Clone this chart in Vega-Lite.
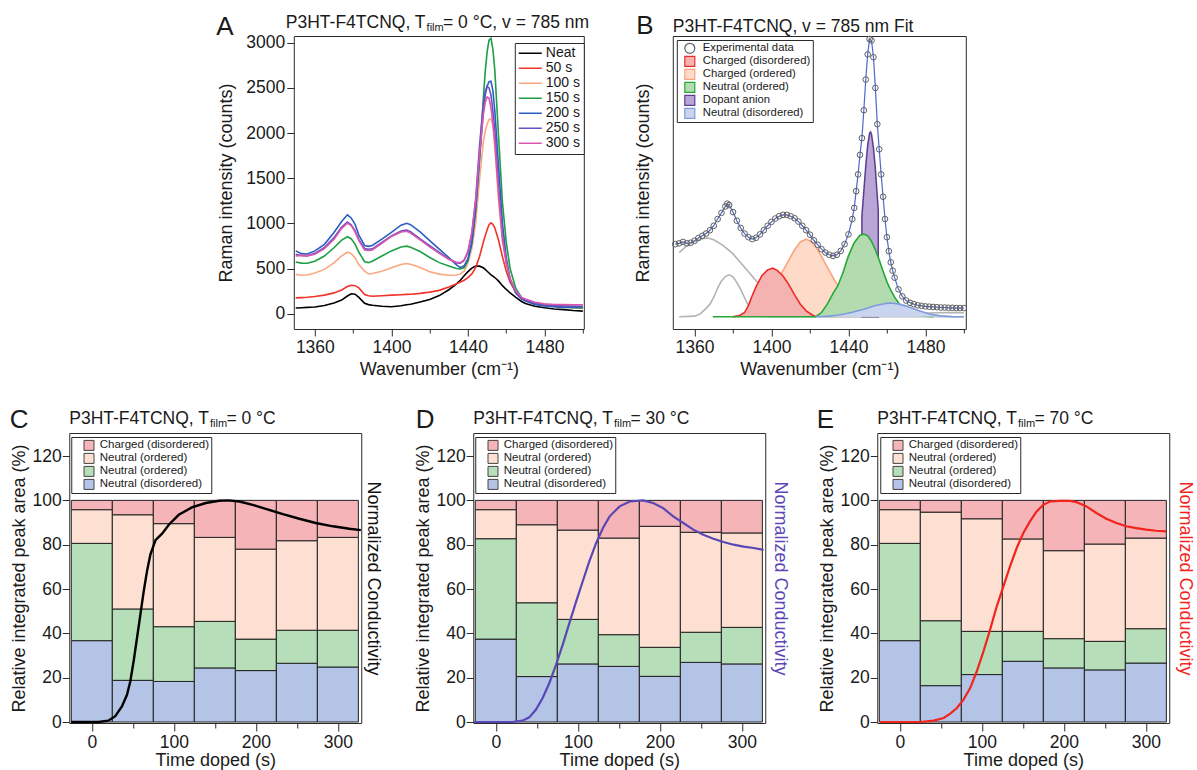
{
  "$schema": "https://vega.github.io/schema/vega-lite/v6.json",
  "padding": {"left": 8, "top": 11, "right": 0, "bottom": 0},
  "background": "white",
  "config": {
    "font": "Liberation Sans",
    "view": {"stroke": "#2b2b2b", "strokeWidth": 1},
    "axis": {"domain": false, "grid": false, "tickColor": "#2b2b2b", "tickSize": 7, "labelFontSize": 17.5, "titleFontSize": 18, "titleFontWeight": "normal", "labelColor": "#1a1a1a", "titleColor": "#1a1a1a", "labelPadding": 2, "labelFlush": false, "labelOverlap": false},
    "title": {"fontSize": 17.5, "fontWeight": "normal", "color": "#1a1a1a", "anchor": "start", "frame": "group", "subtitleFontSize": 11, "subtitleColor": "#1a1a1a", "subtitlePadding": -9, "offset": -23},
    "legend": {"labelColor": "#1a1a1a", "strokeColor": "#2b2b2b", "fillColor": "white"}
  },
  "datasets": {
    "spectra": [
      {"w":1350,"Neat":63,"50 s":175,"100 s":435,"150 s":572,"200 s":695,"250 s":658,"300 s":640},
      {"w":1353,"Neat":66,"50 s":178,"100 s":425,"150 s":560,"200 s":665,"250 s":645,"300 s":645},
      {"w":1356,"Neat":69,"50 s":182,"100 s":428,"150 s":558,"200 s":660,"250 s":640,"300 s":640},
      {"w":1360,"Neat":74,"50 s":190,"100 s":450,"150 s":580,"200 s":695,"250 s":668,"300 s":658},
      {"w":1365,"Neat":90,"50 s":205,"100 s":490,"150 s":638,"200 s":768,"250 s":732,"300 s":720},
      {"w":1370,"Neat":119,"50 s":230,"100 s":562,"150 s":730,"200 s":898,"250 s":842,"300 s":825},
      {"w":1374,"Neat":150,"50 s":262,"100 s":640,"150 s":815,"200 s":1020,"250 s":960,"300 s":945},
      {"w":1377,"Neat":195,"50 s":300,"100 s":680,"150 s":852,"200 s":1095,"250 s":1015,"300 s":1002},
      {"w":1379,"Neat":220,"50 s":315,"100 s":665,"150 s":830,"200 s":1060,"250 s":985,"300 s":975},
      {"w":1381,"Neat":215,"50 s":310,"100 s":620,"150 s":770,"200 s":990,"250 s":920,"300 s":905},
      {"w":1383,"Neat":180,"50 s":285,"100 s":540,"150 s":680,"200 s":870,"250 s":820,"300 s":808},
      {"w":1386,"Neat":115,"50 s":212,"100 s":470,"150 s":575,"200 s":755,"250 s":722,"300 s":706},
      {"w":1388,"Neat":100,"50 s":198,"100 s":440,"150 s":565,"200 s":745,"250 s":712,"300 s":700},
      {"w":1390,"Neat":93,"50 s":192,"100 s":445,"150 s":580,"200 s":755,"250 s":718,"300 s":706},
      {"w":1395,"Neat":82,"50 s":198,"100 s":470,"150 s":638,"200 s":825,"250 s":788,"300 s":780},
      {"w":1400,"Neat":76,"50 s":205,"100 s":508,"150 s":695,"200 s":900,"250 s":860,"300 s":855},
      {"w":1405,"Neat":88,"50 s":210,"100 s":545,"150 s":738,"200 s":980,"250 s":915,"300 s":905},
      {"w":1408,"Neat":98,"50 s":213,"100 s":556,"150 s":748,"200 s":1000,"250 s":925,"300 s":912},
      {"w":1410,"Neat":105,"50 s":215,"100 s":548,"150 s":735,"200 s":985,"250 s":908,"300 s":892},
      {"w":1415,"Neat":128,"50 s":225,"100 s":512,"150 s":688,"200 s":905,"250 s":828,"300 s":818},
      {"w":1420,"Neat":156,"50 s":238,"100 s":465,"150 s":622,"200 s":808,"250 s":752,"300 s":740},
      {"w":1425,"Neat":200,"50 s":258,"100 s":438,"150 s":565,"200 s":715,"250 s":678,"300 s":668},
      {"w":1430,"Neat":265,"50 s":295,"100 s":425,"150 s":528,"200 s":620,"250 s":605,"300 s":602},
      {"w":1434,"Neat":330,"50 s":330,"100 s":428,"150 s":500,"200 s":540,"250 s":562,"300 s":568},
      {"w":1436,"Neat":370,"50 s":350,"100 s":440,"150 s":495,"200 s":510,"250 s":560,"300 s":566},
      {"w":1438,"Neat":420,"50 s":370,"100 s":470,"150 s":510,"200 s":530,"250 s":590,"300 s":595},
      {"w":1440,"Neat":465,"50 s":400,"100 s":560,"150 s":590,"200 s":610,"250 s":680,"300 s":695},
      {"w":1442,"Neat":505,"50 s":440,"100 s":720,"150 s":780,"200 s":780,"250 s":880,"300 s":900},
      {"w":1444,"Neat":528,"50 s":510,"100 s":1000,"150 s":1150,"200 s":1150,"250 s":1270,"300 s":1250},
      {"w":1446,"Neat":526,"50 s":630,"100 s":1480,"150 s":1700,"200 s":1700,"250 s":1850,"300 s":1760},
      {"w":1448,"Neat":508,"50 s":790,"100 s":1900,"150 s":2380,"200 s":2250,"250 s":2320,"300 s":2200},
      {"w":1449,"Neat":490,"50 s":860,"100 s":2020,"150 s":2680,"200 s":2420,"250 s":2460,"300 s":2340},
      {"w":1450,"Neat":470,"50 s":930,"100 s":2100,"150 s":2900,"200 s":2520,"250 s":2515,"300 s":2400},
      {"w":1451,"Neat":450,"50 s":985,"100 s":2150,"150 s":3030,"200 s":2570,"250 s":2500,"300 s":2385},
      {"w":1452,"Neat":430,"50 s":1005,"100 s":2160,"150 s":3050,"200 s":2575,"250 s":2420,"300 s":2280},
      {"w":1453,"Neat":415,"50 s":990,"100 s":2080,"150 s":2930,"200 s":2470,"250 s":2250,"300 s":2120},
      {"w":1454,"Neat":400,"50 s":950,"100 s":1850,"150 s":2700,"200 s":2250,"250 s":2030,"300 s":1900},
      {"w":1456,"Neat":360,"50 s":810,"100 s":1250,"150 s":1950,"200 s":1620,"250 s":1400,"300 s":1310},
      {"w":1458,"Neat":310,"50 s":630,"100 s":800,"150 s":1230,"200 s":1000,"250 s":870,"300 s":830},
      {"w":1460,"Neat":268,"50 s":470,"100 s":560,"150 s":790,"200 s":620,"250 s":570,"300 s":565},
      {"w":1462,"Neat":230,"50 s":350,"100 s":390,"150 s":500,"200 s":380,"250 s":380,"300 s":380},
      {"w":1465,"Neat":180,"50 s":240,"100 s":240,"150 s":275,"200 s":225,"250 s":232,"300 s":250},
      {"w":1468,"Neat":135,"50 s":175,"100 s":170,"150 s":180,"200 s":160,"250 s":170,"300 s":180},
      {"w":1470,"Neat":112,"50 s":150,"100 s":140,"150 s":148,"200 s":140,"250 s":152,"300 s":162},
      {"w":1475,"Neat":82,"50 s":115,"100 s":105,"150 s":108,"200 s":102,"250 s":118,"300 s":126},
      {"w":1480,"Neat":65,"50 s":95,"100 s":90,"150 s":90,"200 s":84,"250 s":100,"300 s":108},
      {"w":1485,"Neat":52,"50 s":82,"100 s":85,"150 s":80,"200 s":76,"250 s":92,"300 s":102},
      {"w":1490,"Neat":45,"50 s":74,"100 s":80,"150 s":72,"200 s":70,"250 s":88,"300 s":100},
      {"w":1495,"Neat":35,"50 s":68,"100 s":76,"150 s":66,"200 s":72,"250 s":85,"300 s":98},
      {"w":1500,"Neat":28,"50 s":63,"100 s":74,"150 s":63,"200 s":74,"250 s":82,"300 s":98}
    ],
    "comps": [
      {"c":"g1","w":1352,"v":23},{"c":"g1","w":1356,"v":25.5},{"c":"g1","w":1360,"v":27},{"c":"g1","w":1364,"v":28},{"c":"g1","w":1367,"v":28.2},{"c":"g1","w":1370,"v":27.6},{"c":"g1","w":1375,"v":25.5},{"c":"g1","w":1380,"v":22.5},{"c":"g1","w":1385,"v":18.5},{"c":"g1","w":1390,"v":14.5},{"c":"g1","w":1395,"v":10.5},{"c":"g1","w":1400,"v":7},{"c":"g1","w":1405,"v":4.5},{"c":"g1","w":1410,"v":2.6},{"c":"g1","w":1415,"v":1.3},{"c":"g1","w":1420,"v":0.6},{"c":"g1","w":1425,"v":0.2},{"c":"g1","w":1430,"v":0},
      {"c":"g2","w":1352,"v":0},{"c":"g2","w":1360,"v":0.2},{"c":"g2","w":1363,"v":1},{"c":"g2","w":1366,"v":3},{"c":"g2","w":1368,"v":4.5},{"c":"g2","w":1370,"v":7},{"c":"g2","w":1372,"v":10.3},{"c":"g2","w":1374,"v":12.8},{"c":"g2","w":1376,"v":14.4},{"c":"g2","w":1378,"v":15},{"c":"g2","w":1380,"v":14.3},{"c":"g2","w":1382,"v":12.2},{"c":"g2","w":1384,"v":9.8},{"c":"g2","w":1386,"v":6.8},{"c":"g2","w":1388,"v":4},{"c":"g2","w":1390,"v":2.1},{"c":"g2","w":1393,"v":0.7},{"c":"g2","w":1396,"v":0.2},{"c":"g2","w":1400,"v":0},{"c":"g2","w":1500,"v":0},
      {"c":"g3","w":1430,"v":0},{"c":"g3","w":1445,"v":0.1},{"c":"g3","w":1455,"v":0.3},{"c":"g3","w":1465,"v":0.7},{"c":"g3","w":1475,"v":1.1},{"c":"g3","w":1485,"v":1.4},{"c":"g3","w":1492,"v":1.5},{"c":"g3","w":1500,"v":1.4},
      {"c":"Charged (ordered)","w":1380,"v":0},{"c":"Charged (ordered)","w":1384,"v":0.5},{"c":"Charged (ordered)","w":1388,"v":1.4},{"c":"Charged (ordered)","w":1391,"v":2.6},{"c":"Charged (ordered)","w":1394,"v":4.3},{"c":"Charged (ordered)","w":1397,"v":6.6},{"c":"Charged (ordered)","w":1400,"v":9.5},{"c":"Charged (ordered)","w":1403,"v":12.8},{"c":"Charged (ordered)","w":1406,"v":16.5},{"c":"Charged (ordered)","w":1409,"v":20.3},{"c":"Charged (ordered)","w":1412,"v":24},{"c":"Charged (ordered)","w":1415,"v":26.8},{"c":"Charged (ordered)","w":1418,"v":27.8},{"c":"Charged (ordered)","w":1421,"v":26.8},{"c":"Charged (ordered)","w":1424,"v":24},{"c":"Charged (ordered)","w":1427,"v":20.3},{"c":"Charged (ordered)","w":1430,"v":16.5},{"c":"Charged (ordered)","w":1433,"v":12.8},{"c":"Charged (ordered)","w":1436,"v":9.5},{"c":"Charged (ordered)","w":1439,"v":6.6},{"c":"Charged (ordered)","w":1442,"v":4.3},{"c":"Charged (ordered)","w":1445,"v":2.6},{"c":"Charged (ordered)","w":1448,"v":1.4},{"c":"Charged (ordered)","w":1452,"v":0.5},{"c":"Charged (ordered)","w":1456,"v":0},
      {"c":"Charged (disordered)","w":1380,"v":0},{"c":"Charged (disordered)","w":1383,"v":0.3},{"c":"Charged (disordered)","w":1386,"v":1.5},{"c":"Charged (disordered)","w":1388,"v":4},{"c":"Charged (disordered)","w":1390,"v":7.6},{"c":"Charged (disordered)","w":1392,"v":10.8},{"c":"Charged (disordered)","w":1395,"v":14.7},{"c":"Charged (disordered)","w":1398,"v":16.8},{"c":"Charged (disordered)","w":1400.7,"v":17.4},{"c":"Charged (disordered)","w":1403,"v":16.6},{"c":"Charged (disordered)","w":1406,"v":14.6},{"c":"Charged (disordered)","w":1409,"v":11.5},{"c":"Charged (disordered)","w":1412,"v":7.8},{"c":"Charged (disordered)","w":1415,"v":4.5},{"c":"Charged (disordered)","w":1418,"v":2.1},{"c":"Charged (disordered)","w":1421,"v":0.7},{"c":"Charged (disordered)","w":1423,"v":0},
      {"c":"Dopant anion","w":1447,"v":36},{"c":"Dopant anion","w":1448,"v":45},{"c":"Dopant anion","w":1449,"v":54},{"c":"Dopant anion","w":1450,"v":61.5},{"c":"Dopant anion","w":1451,"v":65.8},{"c":"Dopant anion","w":1451.5,"v":66.2},{"c":"Dopant anion","w":1452,"v":65.3},{"c":"Dopant anion","w":1453,"v":60.5},{"c":"Dopant anion","w":1454,"v":53},{"c":"Dopant anion","w":1455,"v":43},{"c":"Dopant anion","w":1455.5,"v":38},
      {"c":"Neutral (ordered)","w":1369.5,"v":0},{"c":"Neutral (ordered)","w":1423,"v":0},{"c":"Neutral (ordered)","w":1426,"v":1.5},{"c":"Neutral (ordered)","w":1429,"v":4.5},{"c":"Neutral (ordered)","w":1432,"v":8.4},{"c":"Neutral (ordered)","w":1434.5,"v":11.1},{"c":"Neutral (ordered)","w":1437,"v":15.5},{"c":"Neutral (ordered)","w":1440,"v":21.8},{"c":"Neutral (ordered)","w":1443,"v":26.5},{"c":"Neutral (ordered)","w":1446,"v":29.2},{"c":"Neutral (ordered)","w":1448,"v":29.6},{"c":"Neutral (ordered)","w":1450,"v":29},{"c":"Neutral (ordered)","w":1452,"v":27},{"c":"Neutral (ordered)","w":1454,"v":24},{"c":"Neutral (ordered)","w":1456,"v":20.3},{"c":"Neutral (ordered)","w":1458,"v":16.3},{"c":"Neutral (ordered)","w":1460,"v":12.5},{"c":"Neutral (ordered)","w":1462,"v":9.5},{"c":"Neutral (ordered)","w":1464,"v":7},{"c":"Neutral (ordered)","w":1466,"v":5},{"c":"Neutral (ordered)","w":1468,"v":3.4},{"c":"Neutral (ordered)","w":1470,"v":2.2},{"c":"Neutral (ordered)","w":1473,"v":1.2},{"c":"Neutral (ordered)","w":1476,"v":0.6},{"c":"Neutral (ordered)","w":1480,"v":0.2},{"c":"Neutral (ordered)","w":1484,"v":0},
      {"c":"Neutral (disordered)","w":1423,"v":0},{"c":"Neutral (disordered)","w":1430,"v":0.2},{"c":"Neutral (disordered)","w":1436,"v":0.7},{"c":"Neutral (disordered)","w":1442,"v":1.6},{"c":"Neutral (disordered)","w":1448,"v":2.7},{"c":"Neutral (disordered)","w":1454,"v":4},{"c":"Neutral (disordered)","w":1460,"v":4.8},{"c":"Neutral (disordered)","w":1462,"v":4.9},{"c":"Neutral (disordered)","w":1466,"v":4.6},{"c":"Neutral (disordered)","w":1470,"v":3.8},{"c":"Neutral (disordered)","w":1476,"v":2.3},{"c":"Neutral (disordered)","w":1482,"v":1},{"c":"Neutral (disordered)","w":1488,"v":0.3},{"c":"Neutral (disordered)","w":1494,"v":0.05},{"c":"Neutral (disordered)","w":1500,"v":0}
    ],
    "exp": [
      {"w":1350,"v":26},{"w":1352,"v":26.3},{"w":1354,"v":26.8},{"w":1356,"v":26.3},{"w":1358,"v":26.5},{"w":1360,"v":27.2},{"w":1362,"v":28.2},{"w":1364,"v":29},{"w":1366,"v":29.8},{"w":1368,"v":31},{"w":1370,"v":32.6},{"w":1372,"v":35},{"w":1374,"v":37.2},{"w":1376,"v":39.5},{"w":1377,"v":40.5},{"w":1378,"v":40},{"w":1380,"v":37.5},{"w":1382,"v":34.4},{"w":1384,"v":31.8},{"w":1386,"v":29.8},{"w":1388,"v":28.5},{"w":1390,"v":27.8},{"w":1392,"v":28.3},{"w":1394,"v":29.5},{"w":1396,"v":31},{"w":1398,"v":32.6},{"w":1400,"v":34},{"w":1402,"v":35.2},{"w":1404,"v":36},{"w":1406,"v":36.5},{"w":1408,"v":36.5},{"w":1410,"v":36},{"w":1412,"v":35.3},{"w":1414,"v":34.1},{"w":1416,"v":32.6},{"w":1418,"v":31},{"w":1420,"v":29.4},{"w":1422,"v":27.4},{"w":1424,"v":25.8},{"w":1426,"v":24.2},{"w":1428,"v":23},{"w":1430,"v":22.2},{"w":1432,"v":21.8},{"w":1434,"v":22.2},{"w":1436,"v":23.6},{"w":1438,"v":26},{"w":1440,"v":29.5},{"w":1442,"v":35},{"w":1443,"v":39},{"w":1444,"v":45},{"w":1445,"v":51},{"w":1446,"v":58},{"w":1447,"v":64},{"w":1448,"v":74},{"w":1449,"v":85},{"w":1450,"v":94},{"w":1451,"v":99.5},{"w":1452,"v":99},{"w":1453,"v":93},{"w":1454,"v":82},{"w":1455,"v":69},{"w":1456,"v":60},{"w":1457,"v":51},{"w":1458,"v":43},{"w":1459,"v":35},{"w":1460,"v":28.5},{"w":1461,"v":23.5},{"w":1462,"v":19.5},{"w":1463,"v":16.5},{"w":1464,"v":14},{"w":1466,"v":9.8},{"w":1468,"v":7.3},{"w":1470,"v":5.8},{"w":1472,"v":5},{"w":1474,"v":4.5},{"w":1476,"v":4.1},{"w":1478,"v":3.9},{"w":1480,"v":3.7},{"w":1482,"v":3.6},{"w":1484,"v":3.5},{"w":1486,"v":3.4},{"w":1488,"v":3.3},{"w":1490,"v":3.3},{"w":1492,"v":3.2},{"w":1494,"v":3.2},{"w":1496,"v":3.1},{"w":1498,"v":3.1},{"w":1500,"v":3.1}
    ],
    "bars": [
      {"p":"C","t":0,"c":"Neutral (disordered)","lo":0,"hi":36.7},{"p":"C","t":0,"c":"Neutral (ordered)","lo":36.7,"hi":80.6},{"p":"C","t":0,"c":"Charged (ordered)","lo":80.6,"hi":95.8},{"p":"C","t":0,"c":"Charged (disordered)","lo":95.8,"hi":100},
      {"p":"C","t":50,"c":"Neutral (disordered)","lo":0,"hi":18.8},{"p":"C","t":50,"c":"Neutral (ordered)","lo":18.8,"hi":51},{"p":"C","t":50,"c":"Charged (ordered)","lo":51,"hi":93.5},{"p":"C","t":50,"c":"Charged (disordered)","lo":93.5,"hi":100},
      {"p":"C","t":100,"c":"Neutral (disordered)","lo":0,"hi":18.3},{"p":"C","t":100,"c":"Neutral (ordered)","lo":18.3,"hi":43},{"p":"C","t":100,"c":"Charged (ordered)","lo":43,"hi":89.5},{"p":"C","t":100,"c":"Charged (disordered)","lo":89.5,"hi":100},
      {"p":"C","t":150,"c":"Neutral (disordered)","lo":0,"hi":24.4},{"p":"C","t":150,"c":"Neutral (ordered)","lo":24.4,"hi":45.4},{"p":"C","t":150,"c":"Charged (ordered)","lo":45.4,"hi":83.3},{"p":"C","t":150,"c":"Charged (disordered)","lo":83.3,"hi":100},
      {"p":"C","t":200,"c":"Neutral (disordered)","lo":0,"hi":23.2},{"p":"C","t":200,"c":"Neutral (ordered)","lo":23.2,"hi":37.4},{"p":"C","t":200,"c":"Charged (ordered)","lo":37.4,"hi":78},{"p":"C","t":200,"c":"Charged (disordered)","lo":78,"hi":100},
      {"p":"C","t":250,"c":"Neutral (disordered)","lo":0,"hi":26.5},{"p":"C","t":250,"c":"Neutral (ordered)","lo":26.5,"hi":41.4},{"p":"C","t":250,"c":"Charged (ordered)","lo":41.4,"hi":81.8},{"p":"C","t":250,"c":"Charged (disordered)","lo":81.8,"hi":100},
      {"p":"C","t":300,"c":"Neutral (disordered)","lo":0,"hi":24.8},{"p":"C","t":300,"c":"Neutral (ordered)","lo":24.8,"hi":41.4},{"p":"C","t":300,"c":"Charged (ordered)","lo":41.4,"hi":83.3},{"p":"C","t":300,"c":"Charged (disordered)","lo":83.3,"hi":100},
      {"p":"D","t":0,"c":"Neutral (disordered)","lo":0,"hi":37.4},{"p":"D","t":0,"c":"Neutral (ordered)","lo":37.4,"hi":82.7},{"p":"D","t":0,"c":"Charged (ordered)","lo":82.7,"hi":95.8},{"p":"D","t":0,"c":"Charged (disordered)","lo":95.8,"hi":100},
      {"p":"D","t":50,"c":"Neutral (disordered)","lo":0,"hi":20.5},{"p":"D","t":50,"c":"Neutral (ordered)","lo":20.5,"hi":53.8},{"p":"D","t":50,"c":"Charged (ordered)","lo":53.8,"hi":89},{"p":"D","t":50,"c":"Charged (disordered)","lo":89,"hi":100},
      {"p":"D","t":100,"c":"Neutral (disordered)","lo":0,"hi":26.2},{"p":"D","t":100,"c":"Neutral (ordered)","lo":26.2,"hi":46.3},{"p":"D","t":100,"c":"Charged (ordered)","lo":46.3,"hi":86.6},{"p":"D","t":100,"c":"Charged (disordered)","lo":86.6,"hi":100},
      {"p":"D","t":150,"c":"Neutral (disordered)","lo":0,"hi":25.1},{"p":"D","t":150,"c":"Neutral (ordered)","lo":25.1,"hi":39.4},{"p":"D","t":150,"c":"Charged (ordered)","lo":39.4,"hi":83},{"p":"D","t":150,"c":"Charged (disordered)","lo":83,"hi":100},
      {"p":"D","t":200,"c":"Neutral (disordered)","lo":0,"hi":20.6},{"p":"D","t":200,"c":"Neutral (ordered)","lo":20.6,"hi":33.7},{"p":"D","t":200,"c":"Charged (ordered)","lo":33.7,"hi":88.3},{"p":"D","t":200,"c":"Charged (disordered)","lo":88.3,"hi":100},
      {"p":"D","t":250,"c":"Neutral (disordered)","lo":0,"hi":26.9},{"p":"D","t":250,"c":"Neutral (ordered)","lo":26.9,"hi":40.5},{"p":"D","t":250,"c":"Charged (ordered)","lo":40.5,"hi":85.6},{"p":"D","t":250,"c":"Charged (disordered)","lo":85.6,"hi":100},
      {"p":"D","t":300,"c":"Neutral (disordered)","lo":0,"hi":26.2},{"p":"D","t":300,"c":"Neutral (ordered)","lo":26.2,"hi":42.7},{"p":"D","t":300,"c":"Charged (ordered)","lo":42.7,"hi":85.3},{"p":"D","t":300,"c":"Charged (disordered)","lo":85.3,"hi":100},
      {"p":"E","t":0,"c":"Neutral (disordered)","lo":0,"hi":36.7},{"p":"E","t":0,"c":"Neutral (ordered)","lo":36.7,"hi":80.6},{"p":"E","t":0,"c":"Charged (ordered)","lo":80.6,"hi":95.8},{"p":"E","t":0,"c":"Charged (disordered)","lo":95.8,"hi":100},
      {"p":"E","t":50,"c":"Neutral (disordered)","lo":0,"hi":16.4},{"p":"E","t":50,"c":"Neutral (ordered)","lo":16.4,"hi":45.7},{"p":"E","t":50,"c":"Charged (ordered)","lo":45.7,"hi":94.7},{"p":"E","t":50,"c":"Charged (disordered)","lo":94.7,"hi":100},
      {"p":"E","t":100,"c":"Neutral (disordered)","lo":0,"hi":21.4},{"p":"E","t":100,"c":"Neutral (ordered)","lo":21.4,"hi":40.9},{"p":"E","t":100,"c":"Charged (ordered)","lo":40.9,"hi":91.7},{"p":"E","t":100,"c":"Charged (disordered)","lo":91.7,"hi":100},
      {"p":"E","t":150,"c":"Neutral (disordered)","lo":0,"hi":27.4},{"p":"E","t":150,"c":"Neutral (ordered)","lo":27.4,"hi":40.9},{"p":"E","t":150,"c":"Charged (ordered)","lo":40.9,"hi":82.6},{"p":"E","t":150,"c":"Charged (disordered)","lo":82.6,"hi":100},
      {"p":"E","t":200,"c":"Neutral (disordered)","lo":0,"hi":24.4},{"p":"E","t":200,"c":"Neutral (ordered)","lo":24.4,"hi":37.6},{"p":"E","t":200,"c":"Charged (ordered)","lo":37.6,"hi":77.3},{"p":"E","t":200,"c":"Charged (disordered)","lo":77.3,"hi":100},
      {"p":"E","t":250,"c":"Neutral (disordered)","lo":0,"hi":23.5},{"p":"E","t":250,"c":"Neutral (ordered)","lo":23.5,"hi":36.4},{"p":"E","t":250,"c":"Charged (ordered)","lo":36.4,"hi":80.3},{"p":"E","t":250,"c":"Charged (disordered)","lo":80.3,"hi":100},
      {"p":"E","t":300,"c":"Neutral (disordered)","lo":0,"hi":26.6},{"p":"E","t":300,"c":"Neutral (ordered)","lo":26.6,"hi":42.1},{"p":"E","t":300,"c":"Charged (ordered)","lo":42.1,"hi":83},{"p":"E","t":300,"c":"Charged (disordered)","lo":83,"hi":100}
    ],
    "cond": [
      {"p":"C","t":-25.3,"g":0},{"p":"C","t":8,"g":0},{"p":"C","t":20,"g":0.006},{"p":"C","t":28.6,"g":0.026},{"p":"C","t":36.7,"g":0.07},{"p":"C","t":42.9,"g":0.123},{"p":"C","t":46.9,"g":0.183},{"p":"C","t":51,"g":0.274},{"p":"C","t":55.1,"g":0.379},{"p":"C","t":59.2,"g":0.484},{"p":"C","t":63.3,"g":0.59},{"p":"C","t":67.3,"g":0.68},{"p":"C","t":71.4,"g":0.755},{"p":"C","t":77.6,"g":0.82},{"p":"C","t":85.7,"g":0.85},{"p":"C","t":93.9,"g":0.89},{"p":"C","t":106,"g":0.935},{"p":"C","t":122,"g":0.968},{"p":"C","t":139,"g":0.988},{"p":"C","t":155,"g":0.998},{"p":"C","t":167,"g":1.0},{"p":"C","t":180,"g":0.995},{"p":"C","t":196,"g":0.98},{"p":"C","t":212,"g":0.962},{"p":"C","t":233,"g":0.938},{"p":"C","t":253,"g":0.917},{"p":"C","t":273,"g":0.898},{"p":"C","t":294,"g":0.883},{"p":"C","t":314,"g":0.872},{"p":"C","t":328,"g":0.866},
      {"p":"D","t":-26.5,"g":0},{"p":"D","t":20,"g":0},{"p":"D","t":32.7,"g":0.006},{"p":"D","t":40.8,"g":0.021},{"p":"D","t":49,"g":0.056},{"p":"D","t":57.1,"g":0.108},{"p":"D","t":65.3,"g":0.176},{"p":"D","t":73.5,"g":0.259},{"p":"D","t":81.6,"g":0.349},{"p":"D","t":89.8,"g":0.447},{"p":"D","t":98,"g":0.544},{"p":"D","t":106,"g":0.635},{"p":"D","t":114,"g":0.725},{"p":"D","t":122.4,"g":0.808},{"p":"D","t":130.6,"g":0.875},{"p":"D","t":138.8,"g":0.928},{"p":"D","t":151,"g":0.973},{"p":"D","t":163.3,"g":0.995},{"p":"D","t":179.6,"g":1.0},{"p":"D","t":191.8,"g":0.988},{"p":"D","t":204,"g":0.965},{"p":"D","t":216.3,"g":0.928},{"p":"D","t":228.6,"g":0.898},{"p":"D","t":240.8,"g":0.868},{"p":"D","t":253,"g":0.845},{"p":"D","t":265.3,"g":0.827},{"p":"D","t":277.6,"g":0.812},{"p":"D","t":289.8,"g":0.8},{"p":"D","t":302,"g":0.791},{"p":"D","t":314.3,"g":0.785},{"p":"D","t":326.5,"g":0.777},
      {"p":"E","t":-24.3,"g":0},{"p":"E","t":25,"g":0},{"p":"E","t":41.3,"g":0.006},{"p":"E","t":53.4,"g":0.018},{"p":"E","t":61.5,"g":0.038},{"p":"E","t":69.6,"g":0.063},{"p":"E","t":77.7,"g":0.101},{"p":"E","t":85.8,"g":0.153},{"p":"E","t":93.9,"g":0.229},{"p":"E","t":102,"g":0.319},{"p":"E","t":110.1,"g":0.417},{"p":"E","t":118.2,"g":0.522},{"p":"E","t":126.3,"g":0.612},{"p":"E","t":134.4,"g":0.702},{"p":"E","t":142.5,"g":0.785},{"p":"E","t":150.6,"g":0.853},{"p":"E","t":158.7,"g":0.905},{"p":"E","t":166.8,"g":0.95},{"p":"E","t":174.9,"g":0.98},{"p":"E","t":183,"g":0.995},{"p":"E","t":195.1,"g":0.998},{"p":"E","t":207.3,"g":0.998},{"p":"E","t":215.4,"g":0.992},{"p":"E","t":227.5,"g":0.973},{"p":"E","t":239.7,"g":0.943},{"p":"E","t":251.8,"g":0.917},{"p":"E","t":264,"g":0.898},{"p":"E","t":276,"g":0.883},{"p":"E","t":288.3,"g":0.875},{"p":"E","t":300.4,"g":0.868},{"p":"E","t":312.6,"g":0.863},{"p":"E","t":324.7,"g":0.86}
    ]
  },
  "vconcat": [
    {
      "hconcat": [
        {
          "width": 290, "height": 293,
          "title": {"text": "P3HT-F4TCNQ, T\u2003= 0 °C, v = 785 nm", "subtitle": "\u2060\u2003\u2003\u2003\u2003\u2003\u2003\u2003\u2003\u2003\u2003\u2003\u2003\u2009\u2009\u2009\u2009film", "dx": -8, "offset": -20},
          "data": {"name": "spectra"},
          "transform": [{"fold": ["Neat", "50 s", "100 s", "150 s", "200 s", "250 s", "300 s"], "as": ["s", "i"]}],
          "layer": [
            {
              "transform": [{"filter": "datum.s == 'Neat'"}],
              "mark": {"type": "line", "strokeWidth": 1.6},
              "encoding": {
                "x": {"field": "w", "type": "quantitative", "scale": {"domain": [1349, 1500.5], "nice": false, "zero": false},
                      "axis": {"values": [1360, 1380, 1400, 1420, 1440, 1460, 1480, 1500], "labelExpr": "datum.value % 40 == 0 ? datum.label : ''", "format": "d", "tickSize": {"condition": {"test": "datum.value % 40 == 0", "value": 7}, "value": 4}, "title": "Wavenumber (cm⁻¹)", "titlePadding": 5}},
                "y": {"field": "i", "type": "quantitative", "scale": {"domain": [-170, 3075], "nice": false, "zero": false},
                      "axis": {"values": [0, 500, 1000, 1500, 2000, 2500, 3000], "format": "d", "title": "Raman intensity (counts)", "titlePadding": 10}},
                "color": {"field": "s", "type": "nominal",
                          "scale": {"domain": ["Neat", "50 s", "100 s", "150 s", "200 s", "250 s", "300 s"], "range": ["#000000", "#F0332B", "#F9A882", "#1E9E45", "#2A5EC2", "#6650C4", "#D955AE"]},
                          "legend": {"orient": "none", "legendX": 221, "legendY": 7, "title": null, "padding": 3, "symbolType": "stroke", "symbolSize": 529, "symbolStrokeWidth": 1.5, "labelFontSize": 14, "rowPadding": 0, "clipHeight": 14.3, "labelOffset": 3}}
              }
            },
            {
              "transform": [{"filter": "datum.s != 'Neat'"}],
              "mark": {"type": "line", "strokeWidth": 1.6},
              "encoding": {
                "x": {"field": "w", "type": "quantitative",
                      "axis": {"orient": "top", "title": "A", "labels": false, "ticks": false, "titleFontSize": 26, "titleAngle": 0, "titleAlign": "left", "titleBaseline": "alphabetic", "titleX": -78, "titleY": -2}},
                "y": {"field": "i", "type": "quantitative"},
                "color": {"field": "s", "type": "nominal"}
              }
            }
          ],
          "resolve": {"axis": {"x": "independent"}}
        },
        {
          "width": 293, "height": 293,
          "title": {"text": "P3HT-F4TCNQ, v = 785 nm Fit"},
          "layer": [
            {
              "data": {"name": "comps"},
              "transform": [{"filter": {"field": "c", "oneOf": ["g1", "g2", "g3"]}}],
              "mark": {"type": "line", "color": "#b3b3b3", "strokeWidth": 1.6},
              "encoding": {
                "x": {"field": "w", "type": "quantitative", "scale": {"domain": [1348.7, 1501], "nice": false, "zero": false},
                      "axis": {"values": [1360, 1380, 1400, 1420, 1440, 1460, 1480, 1500], "labelExpr": "datum.value % 40 == 0 ? datum.label : ''", "format": "d", "tickSize": {"condition": {"test": "datum.value % 40 == 0", "value": 7}, "value": 4}, "title": "Wavenumber (cm⁻¹)", "titlePadding": 5}},
                "y": {"field": "v", "type": "quantitative", "scale": {"domain": [-4.4, 100.6], "nice": false, "zero": false},
                      "axis": {"title": "Raman intensity (counts)", "labels": false, "ticks": false, "titlePadding": 20}},
                "detail": {"field": "c"}
              }
            },
            {
              "data": {"name": "comps"},
              "transform": [{"filter": "datum.c == 'Charged (ordered)'"}],
              "mark": {"type": "area"},
              "encoding": {
                "x": {"field": "w", "type": "quantitative", "axis": null},
                "y": {"field": "v", "type": "quantitative", "axis": null},
                "fill": {"field": "c", "type": "nominal",
                         "scale": {"domain": ["Experimental data", "Charged (disordered)", "Charged (ordered)", "Neutral (ordered)", "Dopant anion", "Neutral (disordered)"], "range": ["#ffffff", "#F4B2B1", "#FDDBC8", "#B2DCAF", "#B9A6D7", "#C9D4EF"]},
                         "legend": {"orient": "none", "legendX": 4, "legendY": 4, "title": null, "padding": 2, "symbolSize": 100, "symbolStrokeWidth": 1.2, "labelFontSize": 11.3, "rowPadding": 0, "clipHeight": 12.6, "labelOffset": 7, "symbolOffset": 5}}
              }
            },
            {
              "data": {"name": "comps"},
              "transform": [{"filter": "datum.c == 'Charged (ordered)'"}],
              "mark": {"type": "line", "strokeWidth": 1.6},
              "encoding": {
                "x": {"field": "w", "type": "quantitative", "axis": null},
                "y": {"field": "v", "type": "quantitative", "axis": null},
                "stroke": {"field": "c", "type": "nominal",
                           "scale": {"domain": ["Experimental data", "Charged (disordered)", "Charged (ordered)", "Neutral (ordered)", "Dopant anion", "Neutral (disordered)"], "range": ["#5f5f5f", "#EE2A24", "#F9A47E", "#25A836", "#5B3D91", "#7E9CDB"]},
                           "legend": {"orient": "none", "legendX": 4, "legendY": 4, "title": null, "padding": 2, "symbolSize": 100, "symbolStrokeWidth": 1.2, "labelFontSize": 11.3, "rowPadding": 0, "clipHeight": 12.6, "labelOffset": 7, "symbolOffset": 5}}
              }
            },
            {
              "data": {"name": "comps"},
              "transform": [{"filter": "datum.c == 'Charged (disordered)'"}],
              "mark": {"type": "area"},
              "encoding": {
                "x": {"field": "w", "type": "quantitative", "axis": null},
                "y": {"field": "v", "type": "quantitative", "axis": null},
                "fill": {"field": "c", "type": "nominal"}
              }
            },
            {
              "data": {"name": "comps"},
              "transform": [{"filter": "datum.c == 'Charged (disordered)'"}],
              "mark": {"type": "line", "strokeWidth": 1.6},
              "encoding": {
                "x": {"field": "w", "type": "quantitative", "axis": null},
                "y": {"field": "v", "type": "quantitative", "axis": null},
                "stroke": {"field": "c", "type": "nominal"}
              }
            },
            {
              "data": {"name": "comps"},
              "transform": [{"filter": "datum.c == 'Dopant anion'"}],
              "mark": {"type": "area", "strokeWidth": 1.5},
              "encoding": {
                "x": {"field": "w", "type": "quantitative", "axis": null},
                "y": {"field": "v", "type": "quantitative", "axis": null},
                "fill": {"field": "c", "type": "nominal"},
                "stroke": {"field": "c", "type": "nominal"}
              }
            },
            {
              "data": {"name": "comps"},
              "transform": [{"filter": "datum.c == 'Neutral (ordered)'"}],
              "mark": {"type": "area"},
              "encoding": {
                "x": {"field": "w", "type": "quantitative", "axis": null},
                "y": {"field": "v", "type": "quantitative", "axis": null},
                "fill": {"field": "c", "type": "nominal"}
              }
            },
            {
              "data": {"name": "comps"},
              "transform": [{"filter": "datum.c == 'Neutral (ordered)'"}],
              "mark": {"type": "line", "strokeWidth": 1.6},
              "encoding": {
                "x": {"field": "w", "type": "quantitative", "axis": null},
                "y": {"field": "v", "type": "quantitative", "axis": null},
                "stroke": {"field": "c", "type": "nominal"}
              }
            },
            {
              "data": {"name": "comps"},
              "transform": [{"filter": "datum.c == 'Neutral (disordered)'"}],
              "mark": {"type": "area"},
              "encoding": {
                "x": {"field": "w", "type": "quantitative", "axis": null},
                "y": {"field": "v", "type": "quantitative", "axis": null},
                "fill": {"field": "c", "type": "nominal"}
              }
            },
            {
              "data": {"name": "comps"},
              "transform": [{"filter": "datum.c == 'Neutral (disordered)'"}],
              "mark": {"type": "line", "strokeWidth": 1.6},
              "encoding": {
                "x": {"field": "w", "type": "quantitative", "axis": null},
                "y": {"field": "v", "type": "quantitative", "axis": null},
                "stroke": {"field": "c", "type": "nominal"}
              }
            },
            {
              "data": {"name": "exp"},
              "mark": {"type": "line", "color": "#4F68C9", "strokeWidth": 1.2},
              "encoding": {
                "x": {"field": "w", "type": "quantitative", "axis": null},
                "y": {"field": "v", "type": "quantitative", "axis": null}
              }
            },
            {
              "data": {"name": "exp"},
              "mark": {"type": "point", "filled": false, "size": 32, "strokeWidth": 1, "opacity": 1},
              "encoding": {
                "x": {"field": "w", "type": "quantitative",
                      "axis": {"orient": "top", "title": "B", "labels": false, "ticks": false, "titleFontSize": 26, "titleAngle": 0, "titleAlign": "left", "titleBaseline": "alphabetic", "titleX": -37, "titleY": -3}},
                "y": {"field": "v", "type": "quantitative", "axis": null},
                "stroke": {"datum": "Experimental data", "type": "nominal"},
                "shape": {"datum": "Experimental data", "type": "nominal",
                          "scale": {"domain": ["Experimental data", "Charged (disordered)", "Charged (ordered)", "Neutral (ordered)", "Dopant anion", "Neutral (disordered)"], "range": ["circle", "square", "square", "square", "square", "square"]},
                          "legend": {"orient": "none", "legendX": 4, "legendY": 4, "title": null, "padding": 2, "symbolSize": 100, "symbolStrokeWidth": 1.2, "labelFontSize": 11.3, "rowPadding": 0, "clipHeight": 12.6, "labelOffset": 7, "symbolOffset": 5}}
              }
            }
          ],
          "resolve": {"axis": {"x": "independent", "y": "independent"}}
        }
      ],
      "spacing": 89,
      "bounds": "flush",
      "resolve": {"scale": {"color": "independent", "fill": "independent", "stroke": "independent", "shape": "independent"}}
    },
    {
      "hconcat": [
        {
          "width": 292, "height": 290,
          "title": {"text": "P3HT-F4TCNQ, T\u2003= 0 °C", "subtitle": "\u2060\u2003\u2003\u2003\u2003\u2003\u2003\u2003\u2003\u2003\u2003\u2003\u2003\u2009\u2009\u2009\u2009film"},
          "layer": [
            {
              "data": {"name": "bars"},
              "transform": [{"filter": "datum.p == 'C'"}],
              "mark": {"type": "bar", "width": 41, "stroke": "#222222", "strokeWidth": 1},
              "encoding": {
                "x": {"field": "t", "type": "quantitative", "scale": {"domain": [-27.5, 328.5], "nice": false, "zero": false, "padding": 0},
                      "axis": {"values": [0, 50, 100, 150, 200, 250, 300], "labelExpr": "datum.value % 100 == 0 ? datum.label : ''", "tickSize": {"condition": {"test": "datum.value % 100 == 0", "value": 8}, "value": 5}, "title": "Time doped (s)", "titlePadding": 1}},
                "y": {"field": "hi", "type": "quantitative", "scale": {"domain": [-0.45, 130.4], "nice": false, "zero": false},
                      "axis": {"values": [0, 20, 40, 60, 80, 100, 120], "title": "Relative integrated peak area (%)", "titlePadding": 4, "labelPadding": 1}},
                "y2": {"field": "lo"},
                "fill": {"field": "c", "type": "nominal",
                         "scale": {"domain": ["Charged (disordered)", "Charged (ordered)", "Neutral (ordered)", "Neutral (disordered)"], "range": ["#F4B4B8", "#FDE0D2", "#B5DEB9", "#B4C4E7"]},
                         "legend": {"orient": "none", "legendX": 2, "legendY": 4, "title": null, "padding": 2, "symbolType": "square", "symbolSize": 100, "symbolStrokeColor": "#444444", "symbolStrokeWidth": 1, "labelFontSize": 11.5, "rowPadding": 0, "clipHeight": 12.8, "labelOffset": 5, "symbolOffset": 10, "labelExpr": "datum.label == 'Charged (ordered)' ? 'Neutral (ordered)' : datum.label"}}
              }
            },
            {
              "data": {"name": "cond"},
              "transform": [{"filter": "datum.p == 'C'"}],
              "mark": {"type": "line", "color": "#000000", "strokeWidth": 2.4},
              "encoding": {
                "x": {"field": "t", "type": "quantitative",
                      "axis": {"orient": "top", "title": "C", "labels": false, "ticks": false, "titleFontSize": 26, "titleAngle": 0, "titleAlign": "left", "titleBaseline": "alphabetic", "titleX": -60, "titleY": -6}},
                "y": {"field": "g", "type": "quantitative", "scale": {"domain": [-0.0045, 1.304], "nice": false, "zero": false},
                      "axis": {"orient": "right", "title": "Normalized Conductivity", "labels": false, "ticks": false, "titlePadding": 2, "titleColor": "#111111"}}
              }
            }
          ],
          "resolve": {"scale": {"y": "independent"}, "axis": {"x": "independent", "y": "independent"}}
        },
        {
          "width": 292, "height": 290,
          "title": {"text": "P3HT-F4TCNQ, T\u2003= 30 °C", "subtitle": "\u2060\u2003\u2003\u2003\u2003\u2003\u2003\u2003\u2003\u2003\u2003\u2003\u2003\u2009\u2009\u2009\u2009film"},
          "layer": [
            {
              "data": {"name": "bars"},
              "transform": [{"filter": "datum.p == 'D'"}],
              "mark": {"type": "bar", "width": 41, "stroke": "#222222", "strokeWidth": 1},
              "encoding": {
                "x": {"field": "t", "type": "quantitative", "scale": {"domain": [-27.5, 328.5], "nice": false, "zero": false, "padding": 0},
                      "axis": {"values": [0, 50, 100, 150, 200, 250, 300], "labelExpr": "datum.value % 100 == 0 ? datum.label : ''", "tickSize": {"condition": {"test": "datum.value % 100 == 0", "value": 8}, "value": 5}, "title": "Time doped (s)", "titlePadding": 1}},
                "y": {"field": "hi", "type": "quantitative", "scale": {"domain": [-0.45, 130.4], "nice": false, "zero": false},
                      "axis": {"values": [0, 20, 40, 60, 80, 100, 120], "title": "Relative integrated peak area (%)", "titlePadding": 4, "labelPadding": 1}},
                "y2": {"field": "lo"},
                "fill": {"field": "c", "type": "nominal",
                         "scale": {"domain": ["Charged (disordered)", "Charged (ordered)", "Neutral (ordered)", "Neutral (disordered)"], "range": ["#F4B4B8", "#FDE0D2", "#B5DEB9", "#B4C4E7"]},
                         "legend": {"orient": "none", "legendX": 2, "legendY": 4, "title": null, "padding": 2, "symbolType": "square", "symbolSize": 100, "symbolStrokeColor": "#444444", "symbolStrokeWidth": 1, "labelFontSize": 11.5, "rowPadding": 0, "clipHeight": 12.8, "labelOffset": 5, "symbolOffset": 10, "labelExpr": "datum.label == 'Charged (ordered)' ? 'Neutral (ordered)' : datum.label"}}
              }
            },
            {
              "data": {"name": "cond"},
              "transform": [{"filter": "datum.p == 'D'"}],
              "mark": {"type": "line", "color": "#5A47B6", "strokeWidth": 2.2},
              "encoding": {
                "x": {"field": "t", "type": "quantitative",
                      "axis": {"orient": "top", "title": "D", "labels": false, "ticks": false, "titleFontSize": 26, "titleAngle": 0, "titleAlign": "left", "titleBaseline": "alphabetic", "titleX": -58, "titleY": -6}},
                "y": {"field": "g", "type": "quantitative", "scale": {"domain": [-0.0045, 1.304], "nice": false, "zero": false},
                      "axis": {"orient": "right", "title": "Normalized Conductivity", "labels": false, "ticks": false, "titlePadding": 5, "titleColor": "#5A47B6"}}
              }
            }
          ],
          "resolve": {"scale": {"y": "independent"}, "axis": {"x": "independent", "y": "independent"}}
        },
        {
          "width": 292, "height": 290,
          "title": {"text": "P3HT-F4TCNQ, T\u2003= 70 °C", "subtitle": "\u2060\u2003\u2003\u2003\u2003\u2003\u2003\u2003\u2003\u2003\u2003\u2003\u2003\u2009\u2009\u2009\u2009film"},
          "layer": [
            {
              "data": {"name": "bars"},
              "transform": [{"filter": "datum.p == 'E'"}],
              "mark": {"type": "bar", "width": 41, "stroke": "#222222", "strokeWidth": 1},
              "encoding": {
                "x": {"field": "t", "type": "quantitative", "scale": {"domain": [-27.5, 328.5], "nice": false, "zero": false, "padding": 0},
                      "axis": {"values": [0, 50, 100, 150, 200, 250, 300], "labelExpr": "datum.value % 100 == 0 ? datum.label : ''", "tickSize": {"condition": {"test": "datum.value % 100 == 0", "value": 8}, "value": 5}, "title": "Time doped (s)", "titlePadding": 1}},
                "y": {"field": "hi", "type": "quantitative", "scale": {"domain": [-0.45, 130.4], "nice": false, "zero": false},
                      "axis": {"values": [0, 20, 40, 60, 80, 100, 120], "title": "Relative integrated peak area (%)", "titlePadding": 4, "labelPadding": 1}},
                "y2": {"field": "lo"},
                "fill": {"field": "c", "type": "nominal",
                         "scale": {"domain": ["Charged (disordered)", "Charged (ordered)", "Neutral (ordered)", "Neutral (disordered)"], "range": ["#F4B4B8", "#FDE0D2", "#B5DEB9", "#B4C4E7"]},
                         "legend": {"orient": "none", "legendX": 3, "legendY": 4, "title": null, "padding": 2, "symbolType": "square", "symbolSize": 100, "symbolStrokeColor": "#444444", "symbolStrokeWidth": 1, "labelFontSize": 11.5, "rowPadding": 0, "clipHeight": 12.8, "labelOffset": 5, "symbolOffset": 10, "labelExpr": "datum.label == 'Charged (ordered)' ? 'Neutral (ordered)' : datum.label"}}
              }
            },
            {
              "data": {"name": "cond"},
              "transform": [{"filter": "datum.p == 'E'"}],
              "mark": {"type": "line", "color": "#F2241E", "strokeWidth": 2.2},
              "encoding": {
                "x": {"field": "t", "type": "quantitative",
                      "axis": {"orient": "top", "title": "E", "labels": false, "ticks": false, "titleFontSize": 26, "titleAngle": 0, "titleAlign": "left", "titleBaseline": "alphabetic", "titleX": -61, "titleY": -6}},
                "y": {"field": "g", "type": "quantitative", "scale": {"domain": [-0.0045, 1.304], "nice": false, "zero": false},
                      "axis": {"orient": "right", "title": "Normalized Conductivity", "labels": false, "ticks": false, "titlePadding": 6, "titleColor": "#F2241E"}}
              }
            }
          ],
          "resolve": {"scale": {"y": "independent"}, "axis": {"x": "independent", "y": "independent"}}
        }
      ],
      "spacing": 112,
      "bounds": "flush",
      "resolve": {"scale": {"color": "independent", "fill": "independent", "stroke": "independent", "shape": "independent"}}
    }
  ],
  "spacing": 26,
  "center": true,
  "resolve": {"scale": {"color": "independent", "fill": "independent", "stroke": "independent", "shape": "independent"}}
}
